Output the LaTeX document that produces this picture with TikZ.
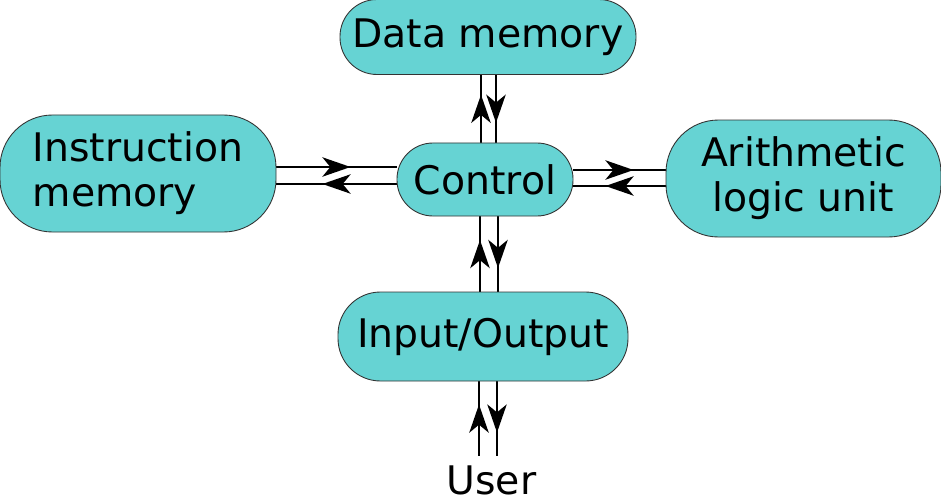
\documentclass[tikz,border=0pt]{standalone}
\usepackage{fontspec}
\setmainfont{DejaVu Sans}
\usetikzlibrary{arrows.meta,decorations.markings,backgrounds}
\definecolor{unitfill}{RGB}{102,211,211}

\begin{document}
\begin{tikzpicture}
\tikzstyle{every node} = [font=\fontsize{22.4}{25.6}\selectfont]
\tikzstyle{unit} = [draw=black!80, line width=0.5pt, fill=unitfill, inner sep=0pt]
\tikzstyle{link} = [line width=1.6pt, postaction={decorate},
  decoration={markings, mark=at position 0.5 with {\arrow[xshift=8pt]{Stealth[length=16pt,width=11pt,inset=4.5pt]}}}]

\useasboundingbox (0,0) rectangle (18.82,-10.02);

\node[unit, minimum width=5.92cm, minimum height=1.5cm, rounded corners=0.74cm] (datamem) at (9.76,-0.74) {Data memory};
\node[unit, minimum width=5.52cm, minimum height=2.34cm, rounded corners=1.05cm, align=left] (instrmem) at (2.76,-3.47) {Instruction\\memory};
\node[unit, minimum width=3.52cm, minimum height=1.46cm, rounded corners=0.72cm] (control) at (9.70,-3.59) {Control};
\node[unit, minimum width=5.50cm, minimum height=2.34cm, rounded corners=1.05cm, align=center] (alu) at (16.07,-3.57) {Arithmetic\\logic unit};
\node[unit, minimum width=5.80cm, minimum height=1.78cm, rounded corners=0.85cm] (io) at (9.66,-6.73) {Input/Output};
\node[anchor=base, inner sep=0pt, outer sep=5.5pt] (user) at (9.83,-9.88) {User};

\begin{scope}[on background layer]
% control <-> instruction memory
\draw[link] ([yshift=0.25cm]control.west -| instrmem.east) -- ([yshift=0.25cm]control.west);
\draw[link] ([yshift=-0.09cm]control.west) -- ([yshift=-0.09cm]control.west -| instrmem.east);
% control <-> alu
\draw[link] ([yshift=0.19cm]control.east) -- ([yshift=0.19cm]control.east -| alu.west);
\draw[link] ([yshift=-0.13cm]control.east -| alu.west) -- ([yshift=-0.13cm]control.east);
% control <-> data memory
\draw[link] ([xshift=-0.08cm]control.north) -- ([xshift=-0.08cm]control.north |- datamem.south);
\draw[link] ([xshift=0.22cm]control.north |- datamem.south) -- ([xshift=0.22cm]control.north);
% control <-> input/output
\draw[link] ([xshift=-0.10cm]control.south |- io.north) -- ([xshift=-0.10cm]control.south);
\draw[link] ([xshift=0.26cm]control.south) -- ([xshift=0.26cm]control.south |- io.north);
% input/output <-> user
\draw[link] ([xshift=-0.08cm]io.south |- user.north) -- ([xshift=-0.08cm]io.south);
\draw[link] ([xshift=0.28cm]io.south) -- ([xshift=0.28cm]io.south |- user.north);
\end{scope}

\end{tikzpicture}
\end{document}
